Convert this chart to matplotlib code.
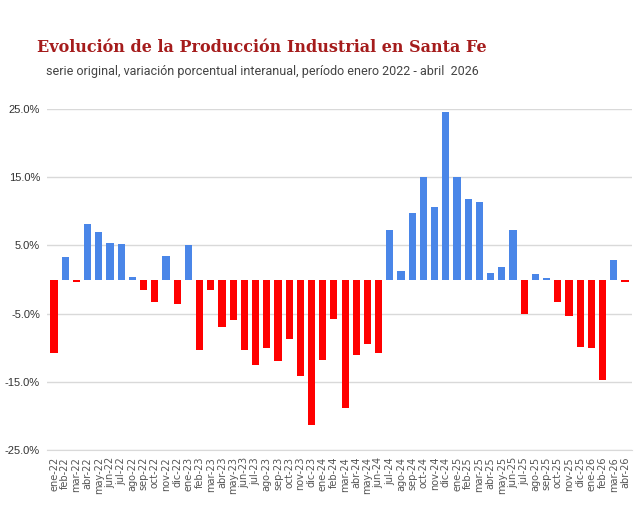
import matplotlib
matplotlib.use("Agg")
import matplotlib.pyplot as plt
import numpy as np

months = ["ene", "feb", "mar", "abr", "may", "jun", "jul", "ago", "sep", "oct", "nov", "dic"]
labels = [f"{m}-{y}" for y in ["22", "23", "24", "25"] for m in months] + ["ene-26", "feb-26", "mar-26", "abr-26"]

values = [
    -10.8, 3.3, -0.4, 8.2, 6.9, 5.4, 5.2, 0.4, -1.5, -3.3, 3.4, -3.6,
    5.1, -10.3, -1.6, -6.9, -5.9, -10.4, -12.5, -10.1, -11.9, -8.7, -14.2, -21.3,
    -11.8, -5.8, -18.9, -11.0, -9.4, -10.8, 7.3, 1.3, 9.7, 15.0, 10.7, 24.6,
    15.0, 11.8, 11.4, 0.9, 1.9, 7.2, -5.1, 0.8, 0.25, -3.3, -5.4, -9.9,
    -10.0, -14.7, 2.9, -0.4,
]

yticks = [-25, -15, -5, 5, 15, 25]

BLUE = "#4A86E8"
RED = "#FF0000"

fig = plt.figure(figsize=(6.42, 5.18), dpi=100)
ax = fig.add_axes([47 / 642, 1 - 450 / 518, (632 - 47) / 642, (450 - 109) / 518])

x = np.arange(len(values))
colors = [BLUE if v >= 0 else RED for v in values]
ax.bar(x, values, width=0.64, color=colors, zorder=3)

ax.set_xlim(-0.63, len(values) - 1 + 0.63)
ax.set_ylim(-25, 25)
ax.set_yticks(yticks)
ax.set_yticklabels([f"{t:.1f}%" for t in yticks])
ax.set_xticks(x)
ax.set_xticklabels(labels)
ax.tick_params(axis="both", length=0)
ax.tick_params(axis="x", pad=5, labelrotation=90, labelsize=7, labelcolor="#555555")
ax.tick_params(axis="y", pad=5, labelsize=8, labelcolor="#333333")
for lab in ax.get_xticklabels() + ax.get_yticklabels():
    lab.set_family("Liberation Sans")
ax.grid(axis="y", color="#D9D9D9", linewidth=1, zorder=0)
for s in ["top", "right", "left"]:
    ax.spines[s].set_visible(False)
ax.spines["bottom"].set_color("#D9D9D9")
ax.spines["bottom"].set_position(("data", -25))

fig.text(262 / 642, 1 - 47 / 518, "Evolución de la Producción Industrial en Santa Fe",
         ha="center", va="center", fontsize=11.5, fontweight="bold", color="#A51C1C", family="DejaVu Serif")
fig.text(262 / 642, 1 - 72 / 518, "serie original, variación porcentual interanual, período enero 2022 - abril  2026",
         ha="center", va="center", fontsize=9.0, color="#444444", family="Roboto")

fig.savefig("out.png", dpi=100, facecolor="white")
